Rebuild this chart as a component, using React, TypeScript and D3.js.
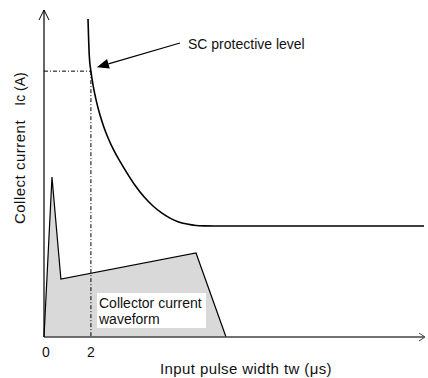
import React from "react";
import * as d3 from "d3";

const W = 428;
const H = 378;

// SC protective level curve: pulse width (µs) and collector current (arb. units)
const protectX = [1.876, 1.931, 2.0, 2.089, 2.217, 2.387, 2.558, 2.728, 2.984, 3.24, 3.581, 3.879, 4.263, 4.647, 5.03, 5.372, 5.713, 6.096, 6.48, 6.864, 7.29, 16.2];
const protectY = [97.25, 85.93, 81.3, 77.13, 72.6, 67.89, 64.1, 60.95, 57.0, 53.7, 49.66, 46.39, 42.87, 40.06, 37.86, 36.36, 35.26, 34.53, 34.1, 33.98, 33.94, 33.94];

// Collector current waveform
const waveX = [0, 0.34, 0.72, 6.48, 7.76];
const waveY = [0, 48.9, 17.7, 25.7, 0];

// Protective level marker
const markerX = 2;
const markerY = 81.3;

const tickValues = [0, 2];
const tickLabels = ["0", "2"];

const FONT = "'Liberation Sans', Arial, Helvetica, sans-serif";

export default function App() {
  const x = d3.scaleLinear().domain([0, 16.2]).range([44, 424]);
  const y = d3.scaleLinear().domain([0, 100]).range([337, 10]);

  const curveLine = d3
    .line<number>()
    .x((_, i) => x(protectX[i]))
    .y((d) => y(d))
    .curve(d3.curveMonotoneX);
  const curvePath = curveLine(protectY) || "";

  const wavePts: [number, number][] = waveX.map((v, i) => [x(v), y(waveY[i])]);
  const waveArea = d3
    .area<[number, number]>()
    .x((d) => d[0])
    .y0(y(0))
    .y1((d) => d[1]);
  const waveLine = d3
    .line<[number, number]>()
    .x((d) => d[0])
    .y((d) => d[1]);

  const x0 = x(0);
  const yBase = y(0);
  const yTop = y(100);
  const xEnd = x(16.2);
  const mx = x(markerX);
  const my = y(markerY);

  // annotation arrow
  const ax1 = 180;
  const ay1 = 43;
  const tipX = mx + 6;
  const tipY = my - 4;
  const ang = Math.atan2(tipY - ay1, tipX - ax1);
  const hl = 12;
  const hw = 5;
  const bx = tipX - hl * Math.cos(ang);
  const by = tipY - hl * Math.sin(ang);
  const px = -Math.sin(ang) * hw;
  const py = Math.cos(ang) * hw;

  return (
    <svg width={W} height={H} style={{ display: "block", position: "absolute", left: 0, top: 0, background: "#fff" }} fontFamily={FONT}>
      <rect x={0} y={0} width={W} height={H} fill="#fff" />
      {/* waveform */}
      <path d={waveArea(wavePts) || ""} fill="#d9d9d9" stroke="none" />
      <path d={waveLine(wavePts) || ""} fill="none" stroke="#000" strokeWidth={1.2} />

      {/* dash-dot marker lines */}
      <line x1={x0} y1={my} x2={mx} y2={my} stroke="#000" strokeWidth={1} strokeDasharray="4 2 1 2" />
      <line x1={mx} y1={my} x2={mx} y2={yBase} stroke="#000" strokeWidth={1} strokeDasharray="4 2 1 2" />

      {/* waveform label box */}
      <rect x={97} y={293} width={109} height={35} fill="#fff" />
      <text x={99} y={308} fontSize={14} fill="#111">Collector current</text>
      <text x={99} y={324} fontSize={14} fill="#111">waveform</text>

      {/* SC curve */}
      <path d={curvePath} fill="none" stroke="#000" strokeWidth={1.6} />

      {/* axes */}
      <line x1={x0} y1={yBase} x2={xEnd} y2={yBase} stroke="#444" strokeWidth={1.6} />
      <polyline points={`${xEnd - 5},${yBase - 4} ${xEnd + 1},${yBase} ${xEnd - 5},${yBase + 4}`} fill="none" stroke="#444" strokeWidth={1} />
      <line x1={x0} y1={yBase} x2={x0} y2={yTop} stroke="#000" strokeWidth={1.2} />
      <polyline points={`${x0 - 5},${yTop + 10} ${x0},${yTop} ${x0 + 5},${yTop + 10}`} fill="none" stroke="#000" strokeWidth={1} />

      {/* tick labels */}
      {tickValues.map((t, i) => (
        <text key={t} x={x(t) + (i === 0 ? 2 : 0)} y={357} fontSize={14} textAnchor="middle" fill="#111">
          {tickLabels[i]}
        </text>
      ))}

      {/* annotation */}
      <line x1={ax1} y1={ay1} x2={bx} y2={by} stroke="#000" strokeWidth={1.2} />
      <polygon points={`${tipX},${tipY} ${bx + px},${by + py} ${bx - px},${by - py}`} fill="#000" />
      <text x={188} y={49} fontSize={14} fill="#111">SC protective level</text>

      {/* axis titles */}
      <text x={246} y={374} fontSize={15} letterSpacing={0.4} textAnchor="middle" fill="#111">Input pulse width tw (μs)</text>
      <text transform={`translate(25,${172}) rotate(-90)`} fontSize={15} letterSpacing={0.5} textAnchor="middle" fill="#111">Collect current</text>
      <text transform={`translate(25,${89}) rotate(-90)`} fontSize={14} textAnchor="middle" fill="#111">Ic (A)</text>
    </svg>
  );
}
